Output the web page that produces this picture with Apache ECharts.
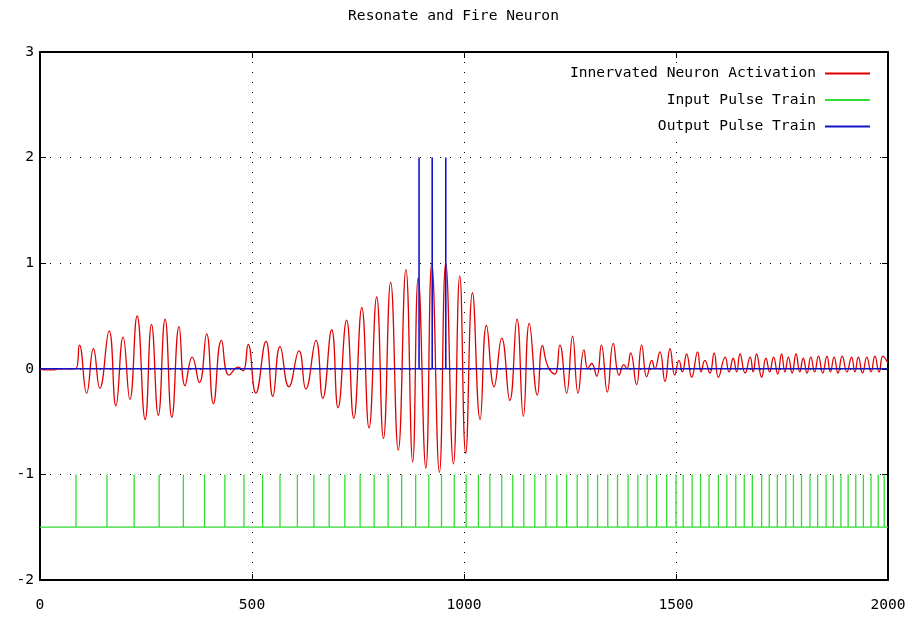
<!DOCTYPE html>
<html>
<head>
<meta charset="utf-8">
<script src="https://cdn.jsdelivr.net/npm/echarts@6/dist/echarts.min.js"></script>
<style>html,body{margin:0;padding:0;background:#fff}#c{width:907px;height:617px}</style>
</head>
<body>
<div id="c"></div>
<script>
// x ticks / y ticks
const xTicks = [0, 500, 1000, 1500, 2000];
const yTicks = [-2, -1, 0, 1, 2, 3];

// Innervated neuron activation: extrema [t, value]
const activation = [
 [0,0],[12,-0.01],[30,-0.01],[45,0],[84,0],
 [93,0.225],[110,-0.23],[126,0.19],[141,-0.185],[163,0.36],[179,-0.35],[196,0.30],[212,-0.29],
 [229,0.50],[248,-0.48],[263,0.42],[279,-0.44],[295,0.47],[311,-0.46],[328,0.40],[342,-0.16],
 [359,0.11],[376,-0.13],[393,0.33],[409,-0.33],[428,0.27],[446,-0.06],[468,0.015],[479,-0.02],
 [491,0.23],[509,-0.23],[533,0.26],[549,-0.26],[566,0.21],[587,-0.17],[611,0.17],[627,-0.19],
 [651,0.27],[667,-0.28],[688,0.37],[703,-0.37],[723,0.46],[740,-0.47],[759,0.58],[776,-0.56],
 [794,0.68],[810,-0.66],[827,0.82],[845,-0.77],[863,0.94],[879,-0.88],[892,0.86],[910,-0.94],
 [924,1.0],[942,-0.98],[957,1.0],[975,-0.9],[990,0.88],[1004,-0.8],[1020,0.72],[1038,-0.48],
 [1053,0.41],[1071,-0.17],[1089,0.29],[1108,-0.30],[1125,0.47],[1140,-0.45],[1154,0.43],[1173,-0.25],
 [1185,0.22],[1198,0.02],[1214,-0.05],[1226,0.225],[1242,-0.23],[1256,0.31],[1269,-0.23],[1283,0.18],
 [1292,0.0],[1301,0.05],[1313,-0.07],[1324,0.225],[1338,-0.22],[1352,0.24],[1366,-0.06],[1377,0.04],
 [1384,0.0],[1393,0.15],[1407,-0.15],[1419,0.225],[1431,-0.075],[1443,0.08],[1450,0.0],[1462,0.16],
 [1474,-0.12],[1486,0.19],[1497,-0.06],[1507,0.08],[1515,-0.03],[1525,0.14],[1537,-0.08],[1551,0.16],
 [1559,-0.03],[1568,0.08],[1580,-0.04],[1590,0.15],[1600,-0.08],[1616,0.11],[1625,-0.03],[1635,0.10],
 [1643,-0.03],[1651,0.14],[1663,-0.04],[1675,0.11],[1682,-0.03],[1690,0.14],[1702,-0.08],[1712,0.10],
 [1721,-0.03],[1730,0.11],[1740,-0.05],[1749,0.14],[1757,-0.03],[1765,0.11],[1774,-0.04],[1783,0.14],
 [1792,-0.03],[1800,0.10],[1809,-0.04],[1818,0.11],[1827,-0.03],[1836,0.12],[1846,-0.04],[1856,0.12],
 [1864,-0.03],[1873,0.11],[1882,-0.04],[1892,0.12],[1903,-0.03],[1914,0.11],[1922,-0.03],[1930,0.11],
 [1940,-0.04],[1950,0.11],[1960,-0.03],[1969,0.12],[1979,-0.03],[1988,0.12],[2000,0.05]
];

// Input pulse train: pulse times, baseline and pulse level
const inputPulses = [85,158,222,281,338,388,436,481,525,566,607,646,682,719,755,788,821,853,886,917,947,977,
 1005,1034,1061,1089,1115,1141,1167,1193,1219,1242,1267,1292,1315,1339,1362,1387,1410,1432,1454,1478,
 1500,1517,1538,1558,1578,1600,1620,1641,1661,1680,1702,1720,1739,1759,1777,1796,1816,1834,1854,1871,
 1889,1906,1924,1942,1960,1977,1991];
const inputBase = -1.5;
const inputTop = -1;

// Output pulse train: spike times, baseline and spike level
const outputSpikes = [894, 925, 957];
const outputBase = 0;
const outputTop = 2;

const T_END = 2000;

function pulseSeries(times, base, top) {
  const d = [[0, base]];
  times.forEach(t => { d.push([t, base], [t, top], [t, base]); });
  d.push([T_END, base]);
  return d;
}

const FONT = 'DejaVu Sans Mono';
const chart = echarts.init(document.getElementById('c'), null, {renderer: 'canvas'});

const dotted = {show: true, lineStyle: {color: '#000', width: 1, type: [1, 9]}};
const tickIn = {show: true, inside: true, length: 6, lineStyle: {color: '#000', width: 1}};
const lineBlack = {show: true, onZero: false, lineStyle: {color: '#000', width: 2}};
const plain = v => String(v);

chart.setOption({
  animation: false,
  backgroundColor: '#fff',
  title: {
    text: 'Resonate and Fire Neuron',
    left: 'center', top: 4,
    textStyle: {fontFamily: FONT, fontSize: 14.6, fontWeight: 'normal', color: '#000'}
  },
  legend: {
    orient: 'vertical', right: 35, top: 64, align: 'right',
    itemWidth: 45, itemHeight: 2, itemGap: 11.5,
    backgroundColor: '#fff', padding: [2, 2, 2, 8],
    textStyle: {fontFamily: FONT, fontSize: 14.6, color: '#000', padding: [0, 4, 0, 0]},
    data: [
      {name: 'Innervated Neuron Activation', icon: 'rect'},
      {name: 'Input Pulse Train', icon: 'rect'},
      {name: 'Output Pulse Train', icon: 'rect'}
    ]
  },
  grid: {left: 40, right: 19, top: 52, bottom: 37, outerBoundsMode: 'none', containLabel: false},
  xAxis: [{
    type: 'value', min: xTicks[0], max: xTicks[xTicks.length - 1], interval: 500,
    axisLine: lineBlack, axisTick: tickIn, splitLine: dotted,
    axisLabel: {fontFamily: FONT, fontSize: 14.6, color: '#000', margin: 18, formatter: plain}
  }, {
    type: 'value', position: 'top', min: xTicks[0], max: xTicks[xTicks.length - 1], interval: 500,
    axisLine: lineBlack, axisTick: tickIn, splitLine: {show: false}, axisLabel: {show: false}
  }],
  yAxis: [{
    type: 'value', min: yTicks[0], max: yTicks[yTicks.length - 1], interval: 1,
    axisLine: lineBlack, axisTick: tickIn, splitLine: dotted,
    axisLabel: {fontFamily: FONT, fontSize: 14.6, color: '#000', margin: 6, formatter: plain}
  }, {
    type: 'value', position: 'right', min: yTicks[0], max: yTicks[yTicks.length - 1], interval: 1,
    axisLine: lineBlack, axisTick: tickIn, splitLine: {show: false}, axisLabel: {show: false}
  }],
  series: [
    {
      name: 'Innervated Neuron Activation', type: 'line', data: activation,
      showSymbol: false, symbol: 'none', color: '#e00000', smooth: 0.5,
      lineStyle: {width: 1.3, color: '#e00000'}
    },
    {
      name: 'Input Pulse Train', type: 'line', data: pulseSeries(inputPulses, inputBase, inputTop),
      showSymbol: false, symbol: 'none', color: '#33dd33',
      lineStyle: {width: 1.3, color: '#33dd33'}
    },
    {
      name: 'Output Pulse Train', type: 'line', data: pulseSeries(outputSpikes, outputBase, outputTop),
      showSymbol: false, symbol: 'none', color: '#1515c8',
      lineStyle: {width: 1.6, color: '#1515c8'}
    }
  ]
});
</script>
</body>
</html>
